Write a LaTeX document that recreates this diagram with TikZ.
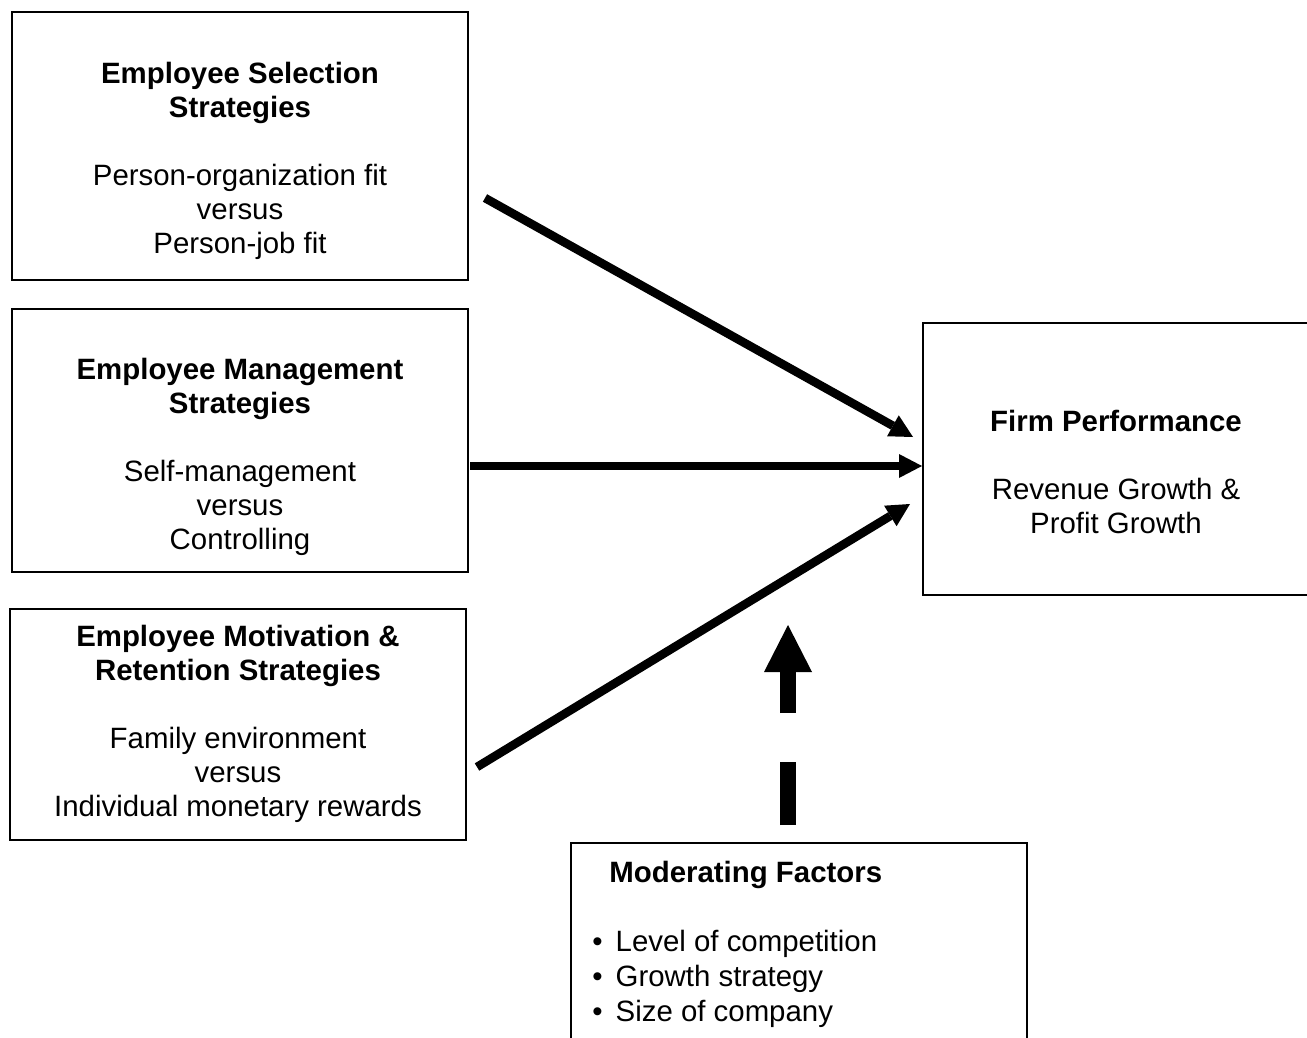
\documentclass[tikz,border=0pt]{standalone}
\usepackage{fontspec}
\setmainfont{Liberation Sans}
\usetikzlibrary{arrows.meta}
\begin{document}
\begin{tikzpicture}[x=0.5pt,y=-0.5pt,
  box/.style={draw,line width=1pt},
  txt/.style={align=center,font=\fontsize{14.7pt}{17pt}\selectfont,inner sep=0pt},
  lefttxt/.style={align=left,font=\fontsize{14.7pt}{17.5pt}\selectfont,inner sep=0pt,anchor=west},
  flow/.style={line width=4.3pt,-{Triangle[length=11.5pt,width=12pt,line width=0pt]}},
  modarrow/.style={line width=8pt,dash pattern=on 31.5pt off 24.5pt on 100pt,-{Triangle[length=23.5pt,width=24pt,line width=0pt]}}]
\useasboundingbox (0,0) rectangle (1307,1038);
% boxes
\draw[box] (12,12) rectangle (468,280);
\draw[box] (12,309) rectangle (468,572);
\draw[box] (10,609) rectangle (466,840);
\draw[box] (1307,323) -- (923,323) -- (923,595) -- (1307,595);
\draw[box] (571,1038) -- (571,843) -- (1027,843) -- (1027,1038);
% texts
\node[txt] (sel) at (240,160.5) {\textbf{Employee Selection}\\\textbf{Strategies}\\[17pt]Person-organization fit\\versus\\Person-job fit};
\node[txt] (mgmt) at (240,457) {\textbf{Employee Management}\\\textbf{Strategies}\\[17pt]Self-management\\versus\\Controlling};
\node[txt] (mot) at (238,724) {\textbf{Employee Motivation \&}\\\textbf{Retention Strategies}\\[17pt]Family environment\\versus\\Individual monetary rewards};
\node[txt] (firm) at (1116,471.5) {\textbf{Firm Performance}\\[17pt]Revenue Growth \&\\Profit Growth};
\node[lefttxt] (modt) at (609,875) {\textbf{Moderating Factors}};
\node[lefttxt] (modl) at (592,979) {•\hspace{6.5pt}Level of competition\\•\hspace{6.5pt}Growth strategy\\•\hspace{6.5pt}Size of company};
% connector end points
\coordinate (s1) at (485,198);
\coordinate (t1) at (913,437);
\coordinate (s2) at (470,466);
\coordinate (t2) at (922,466);
\coordinate (s3) at (477,767);
\coordinate (t3) at (910,504);
\coordinate (s4) at (788,825);
\coordinate (t4) at (788,625);
\draw[flow] (s1) -- (t1);
\draw[flow] (s2) -- (t2);
\draw[flow] (s3) -- (t3);
\draw[modarrow] (s4) -- (t4);
\end{tikzpicture}
\end{document}
